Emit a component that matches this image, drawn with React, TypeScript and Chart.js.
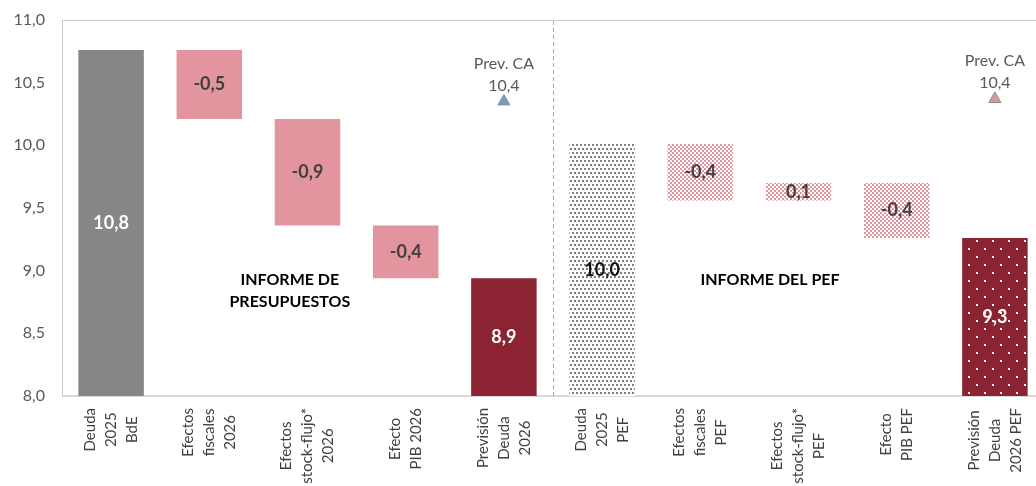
import React, { useEffect, useRef } from "react";
import { Chart, registerables } from "chart.js";

Chart.register(...registerables);

// ---------- data ----------
const categories: string[][] = [
  ["Deuda", "2025", "BdE"],
  ["Efectos", "fiscales", "2026"],
  ["Efectos", "stock-flujo*", "2026"],
  ["Efecto", "PIB 2026"],
  ["Previsión", "Deuda", "2026"],
  ["Deuda", "2025", "PEF"],
  ["Efectos", "fiscales", "PEF"],
  ["Efectos", "stock-flujo*", "PEF"],
  ["Efecto", "PIB PEF"],
  ["Previsión", "Deuda", "2026 PEF"],
];

const barStart: number[] = [8.0, 10.21, 9.36, 8.94, 8.0, 8.0, 9.56, 9.56, 9.26, 8.0];
const barEnd: number[] = [10.76, 10.76, 10.21, 9.36, 8.94, 10.01, 10.01, 9.7, 9.7, 9.26];
const barLabelValues: number[] = [10.8, -0.5, -0.9, -0.4, 8.9, 10.0, -0.4, 0.1, -0.4, 9.3];

const prevCA: (number | null)[] = [null, null, null, null, 10.35, null, null, null, null, 10.37];
const prevCALabels: (number | null)[] = [null, null, null, null, 10.4, null, null, null, null, 10.4];
const prevCATitle = "Prev. CA";

const yMin = 8.0;
const yMax = 11.0;
const yStep = 0.5;

const sectionTexts: { lines: string[]; cat: number; val: number }[] = [
  { lines: ["INFORME DE", "PRESUPUESTOS"], cat: 1.82, val: 8.93 },
  { lines: ["INFORME DEL PEF"], cat: 6.71, val: 8.93 },
];

const fmt = (v: number) => v.toFixed(1).replace(".", ",");

function makePattern(
  w: number,
  h: number,
  bg: string,
  fg: string,
  rects: number[][]
): CanvasPattern {
  const c = document.createElement("canvas");
  c.width = w;
  c.height = h;
  const g = c.getContext("2d")!;
  g.fillStyle = bg;
  g.fillRect(0, 0, w, h);
  g.fillStyle = fg;
  rects.forEach(([x, y, rw, rh]) => g.fillRect(x, y, rw, rh));
  return g.createPattern(c, "repeat")!;
}

export default function App() {
  const ref = useRef<HTMLCanvasElement>(null);

  useEffect(() => {
    const canvas = ref.current!;
    const FONT = "Lato";

    const grayDots = makePattern(4, 8, "#ffffff", "#7f7f7f", [
      [0, 0, 2, 2],
      [2, 4, 2, 2],
    ]);
    const pinkCheck = makePattern(4, 4, "#ffffff", "#e3959f", [
      [0, 0, 2, 2],
      [2, 2, 2, 2],
    ]);
    const redDots = makePattern(16, 16, "#8b2332", "#ffffff", [
      [0, 0, 2, 2],
      [8, 8, 2, 2],
    ]);

    const colors: (string | CanvasPattern)[] = [
      "#878787",
      "#e3959f",
      "#e3959f",
      "#e3959f",
      "#8b2332",
      grayDots,
      pinkCheck,
      pinkCheck,
      pinkCheck,
      redDots,
    ];
    const labelColors = [
      "#ffffff",
      "#404040",
      "#404040",
      "#404040",
      "#ffffff",
      "#111111",
      "#404040",
      "#404040",
      "#404040",
      "#ffffff",
    ];
    const triFill = prevCA.map((_, i) => (i < 5 ? "#8097b6" : "#e3959f"));
    const triBorder = prevCA.map((_, i) => (i < 5 ? "#8097b6" : "#8a8a8a"));

    const plugin = {
      id: "decor",
      beforeDatasetsDraw(chart: any) {
        const { ctx, chartArea: a, scales } = chart;
        const x = scales.x;
        ctx.save();
        ctx.strokeStyle = "#c9c9c9";
        ctx.lineWidth = 1;
        ctx.strokeRect(a.left + 0.5, a.top + 0.5, a.right - a.left, a.bottom - a.top);
        ctx.strokeStyle = "#d9d9d9";
        ctx.lineWidth = 2;
        ctx.beginPath();
        ctx.moveTo(a.left, a.bottom);
        ctx.lineTo(a.right, a.bottom);
        ctx.stroke();
        const sx = Math.round(x.getPixelForValue(4.5)) + 0.5;
        ctx.strokeStyle = "#a6a6a6";
        ctx.lineWidth = 1;
        ctx.setLineDash([4, 3]);
        ctx.beginPath();
        ctx.moveTo(sx, a.top + 1);
        ctx.lineTo(sx, a.bottom);
        ctx.stroke();
        ctx.restore();
      },
      afterDatasetsDraw(chart: any) {
        const { ctx, chartArea: a, scales } = chart;
        const x = scales.x;
        const y = scales.y;
        ctx.save();
        const meta = chart.getDatasetMeta(0);
        ctx.textAlign = "center";
        ctx.textBaseline = "middle";
        ctx.font = `bold 18px ${FONT}`;
        meta.data.forEach((el: any, i: number) => {
          ctx.fillStyle = labelColors[i];
          ctx.fillText(fmt(barLabelValues[i]), el.x, (el.y + el.base) / 2);
        });
        const m1 = chart.getDatasetMeta(1);
        ctx.font = `16px ${FONT}`;
        ctx.fillStyle = "#595959";
        m1.data.forEach((el: any, i: number) => {
          const v = prevCALabels[i];
          if (v == null || prevCA[i] == null) return;
          ctx.fillText(prevCATitle, el.x, el.y - 38);
          ctx.fillText(fmt(v), el.x, el.y - 16);
        });
        ctx.font = `bold 16px ${FONT}`;
        ctx.fillStyle = "#000000";
        sectionTexts.forEach((s) => {
          const px = x.getPixelForValue(s.cat);
          const py = y.getPixelForValue(s.val);
          s.lines.forEach((ln, j) => ctx.fillText(ln, px, py + j * 22));
        });
        ctx.font = `15px ${FONT}`;
        ctx.fillStyle = "#404040";
        categories.forEach((lines, i) => {
          const W = Math.max(...lines.map((l) => ctx.measureText(l).width));
          const cx = x.getPixelForValue(i);
          const cy = a.bottom + 12 + W / 2;
          ctx.save();
          ctx.translate(cx, cy);
          ctx.rotate(-Math.PI / 2);
          lines.forEach((ln, j) => {
            ctx.fillText(ln, 0, (j - (lines.length - 1) / 2) * 21);
          });
          ctx.restore();
        });
        ctx.restore();
      },
    };

    const chart = new Chart(canvas, {
      type: "bar",
      data: {
        labels: categories.map((c) => c.join(" ")),
        datasets: [
          {
            type: "bar",
            data: barStart.map((s, i) => [s, barEnd[i]]) as any,
            backgroundColor: colors as any,
            borderWidth: 0,
            barPercentage: 0.667,
            categoryPercentage: 1,
            order: 2,
          },
          {
            type: "line",
            data: prevCA as any,
            showLine: false,
            pointStyle: "triangle",
            pointRadius: 7,
            pointHoverRadius: 7,
            pointBackgroundColor: triFill,
            pointBorderColor: triBorder,
            pointBorderWidth: 1,
            order: 1,
          } as any,
        ],
      },
      options: {
        responsive: false,
        animation: false,
        devicePixelRatio: 1,
        layout: { padding: { top: 20, left: 0, right: 0, bottom: 0 } },
        plugins: { legend: { display: false }, tooltip: { enabled: false } },
        scales: {
          x: {
            grid: { display: false, drawTicks: false },
            border: { display: false },
            ticks: { display: false },
            afterFit: (s: any) => {
              s.height = 90;
            },
          },
          y: {
            min: yMin,
            max: yMax,
            grid: { display: false, drawTicks: true, tickLength: 17 },
            border: { display: false },
            ticks: {
              stepSize: yStep,
              padding: 0,
              color: "#595959",
              font: { size: 16, family: FONT },
              callback: (v: any) => fmt(Number(v)),
            },
            afterFit: (s: any) => {
              s.width = 62;
            },
          },
        },
      },
      plugins: [plugin],
    });

    if ((document as any).fonts && (document as any).fonts.load) {
      Promise.all([
        (document as any).fonts.load(`15px ${FONT}`),
        (document as any).fonts.load(`bold 15px ${FONT}`),
      ])
        .then(() => chart.update())
        .catch(() => {});
    }

    return () => chart.destroy();
  }, []);

  return (
    <div
      style={{
        position: "absolute",
        left: 0,
        top: 0,
        width: 1036,
        height: 486,
        overflow: "hidden",
        background: "#ffffff",
      }}
    >
      <canvas
        ref={ref}
        width={1052}
        height={486}
        style={{ display: "block", width: 1052, height: 486 }}
      />
    </div>
  );
}
